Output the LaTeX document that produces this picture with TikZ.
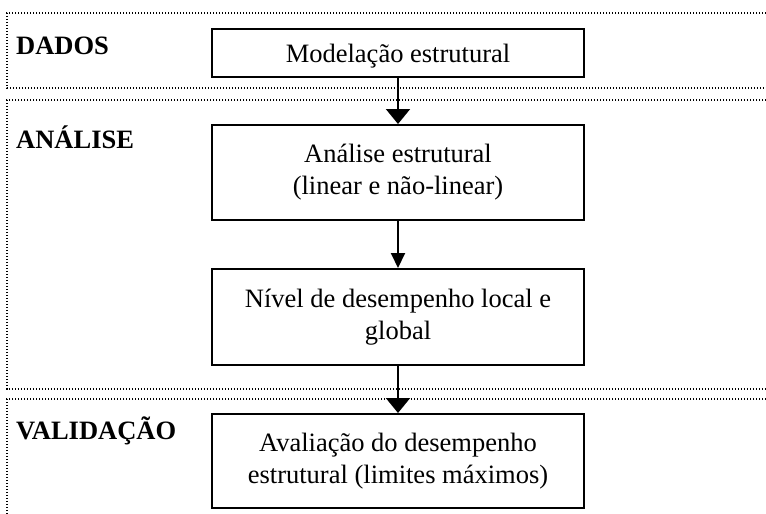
\documentclass[tikz,border=0pt]{standalone}
\usepackage{fontspec}
\setmainfont{Liberation Serif}
\usetikzlibrary{arrows.meta}
\begin{document}
\begin{tikzpicture}[x=1pt,y=-1pt,
  every node/.style={font=\fontsize{26.5}{32}\selectfont},
  stagebox/.style={draw,line width=2pt,minimum width=372pt,inner sep=0pt,align=center,anchor=center},
  zone/.style={line width=1.3pt,dash pattern=on 1.1pt off 1.9pt},
  label/.style={anchor=base west,inner sep=0pt,font=\fontsize{26.5}{32}\selectfont\bfseries},
  bigarr/.style={line width=2pt,-{Triangle[width=24pt,length=15pt]}},
  smallarr/.style={line width=2pt,-{Triangle[width=14pt,length=15pt]}}]
\useasboundingbox (0,0) rectangle (766,514);
% zones
\draw[zone] (766,13) -- (7,13) -- (7,88) -- (766,88);
\draw[zone] (766,100) -- (7,100) -- (7,389) -- (766,389);
\draw[zone] (766,399) -- (7,399) -- (7,514);
% labels
\node[label] (ldados) at (16,54) {DADOS};
\node[label] (lanalise) at (16,148) {ANÁLISE};
\node[label] (lvalid) at (16,439) {VALIDAÇÃO};
% boxes
\node[stagebox,minimum height=48pt,text depth=0pt] (b1) at (398,53) {Modelação estrutural};
\node[stagebox,minimum height=95pt] (b2) at (398,172.5) {Análise estrutural\\(linear e não-linear)};
\node[stagebox,minimum height=96pt] (b3) at (398,317) {Nível de desempenho local e\\global};
\node[stagebox,minimum height=94pt] (b4) at (398,461) {Avaliação do desempenho\\estrutural (limites máximos)};
% arrows
\draw[bigarr] (b1) -- (b2);
\draw[smallarr] (b2) -- (b3);
\draw[bigarr] (b3) -- (b4);
\end{tikzpicture}
\end{document}
